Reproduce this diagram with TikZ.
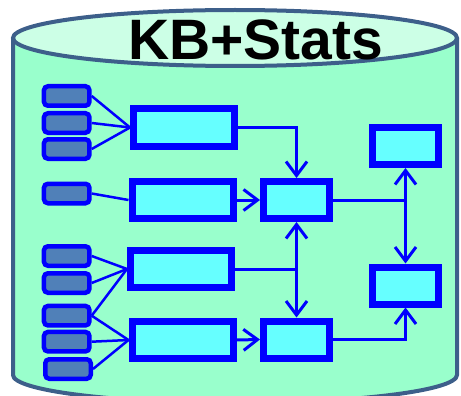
\documentclass[tikz,border=0pt]{standalone}
\usepackage{fontspec}
\setmainfont{Liberation Sans}
\usepackage{xcolor}
\usetikzlibrary{arrows.meta}

\definecolor{kbline}{HTML}{3D5F8A}
\definecolor{kbbody}{HTML}{99FFCC}
\definecolor{kbtop}{HTML}{CCFFE6}
\definecolor{srcfill}{HTML}{5080B8}
\definecolor{boxfill}{HTML}{66FFFF}

\begin{document}
\begin{tikzpicture}[x=1pt,y=1pt]
  \useasboundingbox (0,0) rectangle (461,-396);
  \clip (0,0) rectangle (461,-396);
  % the store
  \fill[kbbody] (13,-38) -- (13,-375) arc[start angle=180,end angle=360,x radius=222,y radius=28] -- (457,-38) -- cycle;
  \fill[kbtop] (235,-38) ellipse[x radius=222,y radius=28];
  \draw[kbline,line width=4pt] (13,-38) -- (13,-375) arc[start angle=180,end angle=360,x radius=222,y radius=28] -- (457,-38);
  \draw[kbline,line width=4pt] (235,-38) ellipse[x radius=222,y radius=28];
  \node[anchor=base,font=\fontsize{57}{57}\selectfont\bfseries,inner sep=0] (title) at (255.5,-60) {KB+Stats};
  \tikzstyle{src}=[rectangle,rounded corners=4pt,draw=blue,line width=4.5pt,fill=srcfill,minimum width=45.5pt,minimum height=19.5pt,inner sep=0]
  \tikzstyle{stage}=[rectangle,draw=blue,line width=7pt,fill=boxfill,inner sep=0,minimum height=37pt]
  \tikzstyle{feed}=[blue,line width=2.5pt]
  \tikzstyle{flow}=[blue,line width=3pt,-{Straight Barb[length=14pt,width=21pt]}]
  % sources
  \node[src] (s1) at (66.7,-96) {};
  \node[src] (s2) at (66.7,-123) {};
  \node[src] (s3) at (66.7,-149) {};
  \node[src] (s4) at (66.7,-193.5) {};
  \node[src] (s5) at (66.7,-256) {};
  \node[src] (s6) at (66.7,-283) {};
  \node[src] (s7) at (66.7,-315.7) {};
  \node[src] (s8) at (66.7,-341.7) {};
  \node[src] (s9) at (68,-369) {};
  % first stage
  \node[stage,minimum width=101pt] (a) at (184,-127.5) {};
  \node[stage,minimum width=101pt] (b) at (182.5,-200) {};
  \node[stage,minimum width=101pt] (c) at (181,-269) {};
  \node[stage,minimum width=101pt] (d) at (182.5,-340) {};
  % second and third stage
  \node[stage,minimum width=66pt] (e) at (296.5,-200) {};
  \node[stage,minimum width=66pt] (f) at (296.5,-339.5) {};
  \node[stage,minimum width=66pt] (g) at (405.5,-146) {};
  \node[stage,minimum width=66pt] (h) at (405.5,-285.5) {};
  % feeds
  \foreach \s in {s1,s2,s3} \draw[feed] (\s.east) -- (a.west);
  \draw[feed] (s4.east) -- (b.west);
  \foreach \s in {s5,s6,s7} \draw[feed] (\s.east) -- (c.west);
  \foreach \s in {s7,s8,s9} \draw[feed] (\s.east) -- (d.west);
  % flows
  \coordinate (jc) at (c.east -| e.south);
  \coordinate (je) at (e.east -| g.south);
  \draw[flow] (a.east) -| (e.north);
  \draw[flow] (b.east) -- (e.west);
  \draw[flow] (d.east) -- (f.west);
  \draw[blue,line width=3pt] (c.east) -- (jc);
  \draw[flow,{Straight Barb[length=14pt,width=21pt]}-{Straight Barb[length=14pt,width=21pt]}] (e.south) -- (f.north);
  \draw[blue,line width=3pt] (e.east) -- (je);
  \draw[flow,{Straight Barb[length=14pt,width=21pt]}-{Straight Barb[length=14pt,width=21pt]}] (g.south) -- (h.north);
  \draw[flow] (f.east) -| (h.south);
\end{tikzpicture}
\end{document}
